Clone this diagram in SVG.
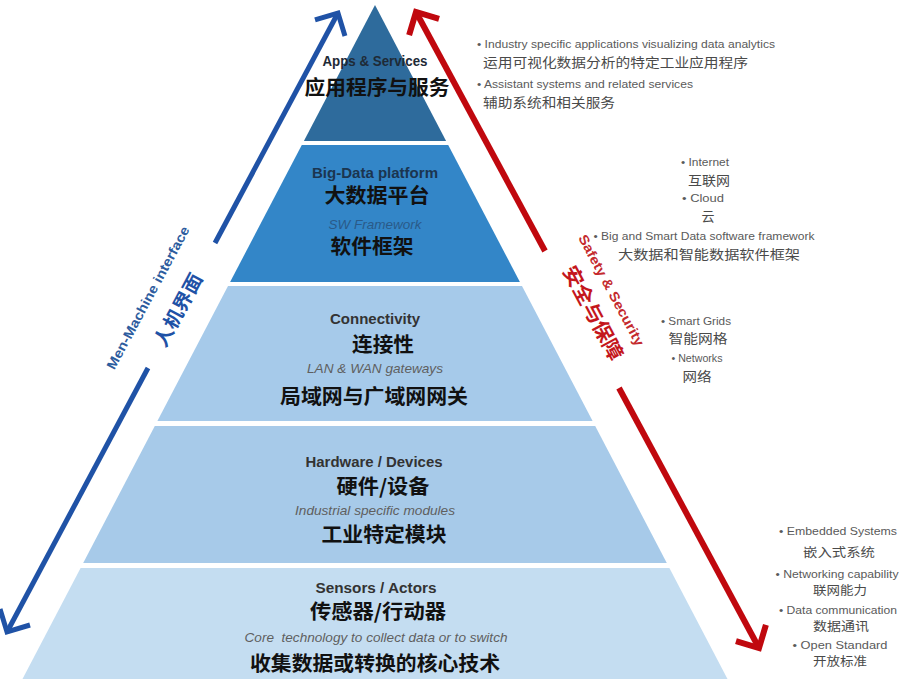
<svg xmlns="http://www.w3.org/2000/svg" width="900" height="681" viewBox="0 0 900 681">
<style>
.en{font-family:"Liberation Sans",Arial,sans-serif}
.cjk{font-family:"Noto Sans CJK SC","Liberation Sans",sans-serif}
.t1{font-size:14px;font-weight:bold}
.c1{font-size:20px;font-weight:bold;fill:#111}
.it{font-size:13.5px;font-style:italic}
.side{font-size:11.5px;fill:#5a5a5a}
.sidec{font-size:13px;fill:#4a4a4a}
.side2{font-size:11px;fill:#5a5a5a}
.sidec2{font-size:12.5px;fill:#4a4a4a}
.mid{text-anchor:middle}
</style>
<defs>
<marker id="chevB" markerUnits="userSpaceOnUse" orient="auto-start-reverse" refX="0" refY="0" markerWidth="1" markerHeight="1" style="overflow:visible">
<path d="M-17,-17 L0,0 L-17,17" fill="none" stroke="#1f52a6" stroke-width="5"/>
</marker>
<marker id="chevR" markerUnits="userSpaceOnUse" orient="auto-start-reverse" refX="0" refY="0" markerWidth="1" markerHeight="1" style="overflow:visible">
<path d="M-17,-17 L0,0 L-17,17" fill="none" stroke="#c0080e" stroke-width="6"/>
</marker>
</defs>
<rect width="900" height="681" fill="#ffffff"/>

<g id="layer-apps">
<polygon points="375,5 446.1,141 303.9,141" fill="#2e6b9c"/>
<text class="en t1 mid" x="375" y="66" fill="#1e2a36" textLength="105" lengthAdjust="spacingAndGlyphs">Apps &amp; Services</text>
<text class="cjk c1 mid" x="377" y="95" textLength="145" lengthAdjust="spacingAndGlyphs">应用程序与服务</text>
</g>

<g id="layer-bigdata">
<polygon points="301.8,145 448.2,145 519.9,282 230.1,282" fill="#3386c8"/>
<text class="en t1 mid" x="375" y="178" fill="#1b3550" font-size="15" textLength="126" lengthAdjust="spacingAndGlyphs">Big-Data platform</text>
<text class="cjk c1 mid" x="377" y="203" textLength="105" lengthAdjust="spacingAndGlyphs">大数据平台</text>
<text class="en it mid" x="375" y="229" fill="#2a5a88" textLength="93" lengthAdjust="spacingAndGlyphs">SW Framework</text>
<text class="cjk c1 mid" x="372" y="254" textLength="83" lengthAdjust="spacingAndGlyphs">软件框架</text>
</g>

<g id="layer-connectivity">
<polygon points="228,286 522,286 592.6,421 157.4,421" fill="#a6caea"/>
<text class="en t1 mid" x="375" y="324" fill="#333" textLength="90" lengthAdjust="spacingAndGlyphs">Connectivity</text>
<text class="cjk c1 mid" x="383" y="352" textLength="62" lengthAdjust="spacingAndGlyphs">连接性</text>
<text class="en it mid" x="375" y="373" fill="#5f5f5f" textLength="136" lengthAdjust="spacingAndGlyphs">LAN &amp; WAN gateways</text>
<text class="cjk c1 mid" x="374" y="404" textLength="188" lengthAdjust="spacingAndGlyphs">局域网与广域网网关</text>
</g>

<g id="layer-hardware">
<polygon points="154.8,426 595.2,426 666.8,563 83.2,563" fill="#a7cae9"/>
<text class="en t1 mid" x="374" y="467" fill="#333" textLength="137" lengthAdjust="spacingAndGlyphs">Hardware / Devices</text>
<text class="cjk c1 mid" x="383" y="494" textLength="93" lengthAdjust="spacingAndGlyphs">硬件/设备</text>
<text class="en it mid" x="375" y="515" fill="#5f5f5f" textLength="160" lengthAdjust="spacingAndGlyphs">Industrial specific modules</text>
<text class="cjk c1 mid" x="384" y="542" textLength="125" lengthAdjust="spacingAndGlyphs">工业特定模块</text>
</g>

<g id="layer-sensors">
<polygon points="80.6,568 669.4,568 727.5,679 22.5,679" fill="#c4ddf1"/>
<text class="en t1 mid" x="376" y="593" fill="#333" textLength="121" lengthAdjust="spacingAndGlyphs">Sensors / Actors</text>
<text class="cjk c1 mid" x="378" y="619" textLength="136" lengthAdjust="spacingAndGlyphs">传感器/行动器</text>
<text class="en it mid" x="376" y="642" fill="#5f5f5f" xml:space="preserve" textLength="263" lengthAdjust="spacingAndGlyphs">Core  technology to collect data or to switch</text>
<text class="cjk c1 mid" x="375" y="671" textLength="250" lengthAdjust="spacingAndGlyphs">收集数据或转换的核心技术</text>
</g>

<g id="connectors">
<line x1="338" y1="13" x2="215" y2="243" stroke="#1f52a6" stroke-width="5" marker-start="url(#chevB)"/>
<line x1="148" y1="368" x2="7" y2="632" stroke="#1f52a6" stroke-width="5" marker-end="url(#chevB)"/>
<line x1="416" y1="12" x2="545" y2="251" stroke="#c0080e" stroke-width="6" marker-start="url(#chevR)"/>
<line x1="619" y1="388" x2="759" y2="648" stroke="#c0080e" stroke-width="6" marker-end="url(#chevR)"/>
</g>

<g id="label-hmi" transform="translate(181.5,305.5) rotate(-61.8)">
<text class="en mid" x="-9" y="-28.5" font-size="13.5" font-weight="bold" fill="#2d5c9e" textLength="160" lengthAdjust="spacingAndGlyphs">Men-Machine interface</text>
<text class="cjk mid" x="-5.5" y="6" font-size="19" font-weight="bold" fill="#1f52a6" textLength="80" lengthAdjust="spacingAndGlyphs">人机界面</text>
</g>

<g id="label-safety" transform="translate(582,319.5) rotate(61.8)">
<text class="en mid" x="-12" y="-35" font-size="13.5" font-weight="bold" fill="#c42a2e" textLength="124" lengthAdjust="spacingAndGlyphs">Safety &amp; Security</text>
<text class="cjk mid" x="-0.5" y="-5.8" font-size="20" font-weight="bold" fill="#c4161c" textLength="104" lengthAdjust="spacingAndGlyphs">安全与保障</text>
</g>

<g id="notes-apps">
<text class="en side" x="477" y="48" textLength="298" lengthAdjust="spacingAndGlyphs">• Industry specific applications visualizing data analytics</text>
<text class="cjk sidec" x="483" y="67" textLength="265" lengthAdjust="spacingAndGlyphs">运用可视化数据分析的特定工业应用程序</text>
<text class="en side" x="477" y="88" textLength="216" lengthAdjust="spacingAndGlyphs">• Assistant systems and related services</text>
<text class="cjk sidec" x="483" y="107" textLength="132" lengthAdjust="spacingAndGlyphs">辅助系统和相关服务</text>
</g>

<g id="notes-bigdata">
<text class="en side mid" x="705" y="166" textLength="48" lengthAdjust="spacingAndGlyphs">• Internet</text>
<text class="cjk sidec mid" x="709" y="185" textLength="42" lengthAdjust="spacingAndGlyphs">互联网</text>
<text class="en side mid" x="703" y="202" textLength="42" lengthAdjust="spacingAndGlyphs">• Cloud</text>
<text class="cjk sidec mid" x="708" y="221">云</text>
<text class="en side mid" x="704" y="240" textLength="221" lengthAdjust="spacingAndGlyphs">• Big and Smart Data software framework</text>
<text class="cjk sidec mid" x="709" y="259" textLength="182" lengthAdjust="spacingAndGlyphs">大数据和智能数据软件框架</text>
</g>

<g id="notes-connectivity">
<text class="en side mid" x="696" y="325" textLength="70" lengthAdjust="spacingAndGlyphs">• Smart Grids</text>
<text class="cjk sidec mid" x="698" y="343" textLength="59" lengthAdjust="spacingAndGlyphs">智能网格</text>
<text class="en side mid" x="697" y="362" textLength="51" lengthAdjust="spacingAndGlyphs">• Networks</text>
<text class="cjk sidec mid" x="697" y="381" textLength="29" lengthAdjust="spacingAndGlyphs">网络</text>
</g>

<g id="notes-sensors">
<text class="en side2 mid" x="838" y="535" textLength="118" lengthAdjust="spacingAndGlyphs">• Embedded Systems</text>
<text class="cjk sidec2 mid" x="839" y="557" textLength="72" lengthAdjust="spacingAndGlyphs">嵌入式系统</text>
<text class="en side2 mid" x="837" y="578" textLength="123" lengthAdjust="spacingAndGlyphs">• Networking capability</text>
<text class="cjk sidec2 mid" x="840" y="595" textLength="54" lengthAdjust="spacingAndGlyphs">联网能力</text>
<text class="en side2 mid" x="838" y="614" textLength="118" lengthAdjust="spacingAndGlyphs">• Data communication</text>
<text class="cjk sidec2 mid" x="841" y="631" textLength="56" lengthAdjust="spacingAndGlyphs">数据通讯</text>
<text class="en side2 mid" x="840" y="649" textLength="95" lengthAdjust="spacingAndGlyphs">• Open Standard</text>
<text class="cjk sidec2 mid" x="840" y="666" textLength="54" lengthAdjust="spacingAndGlyphs">开放标准</text>
</g>
</svg>
